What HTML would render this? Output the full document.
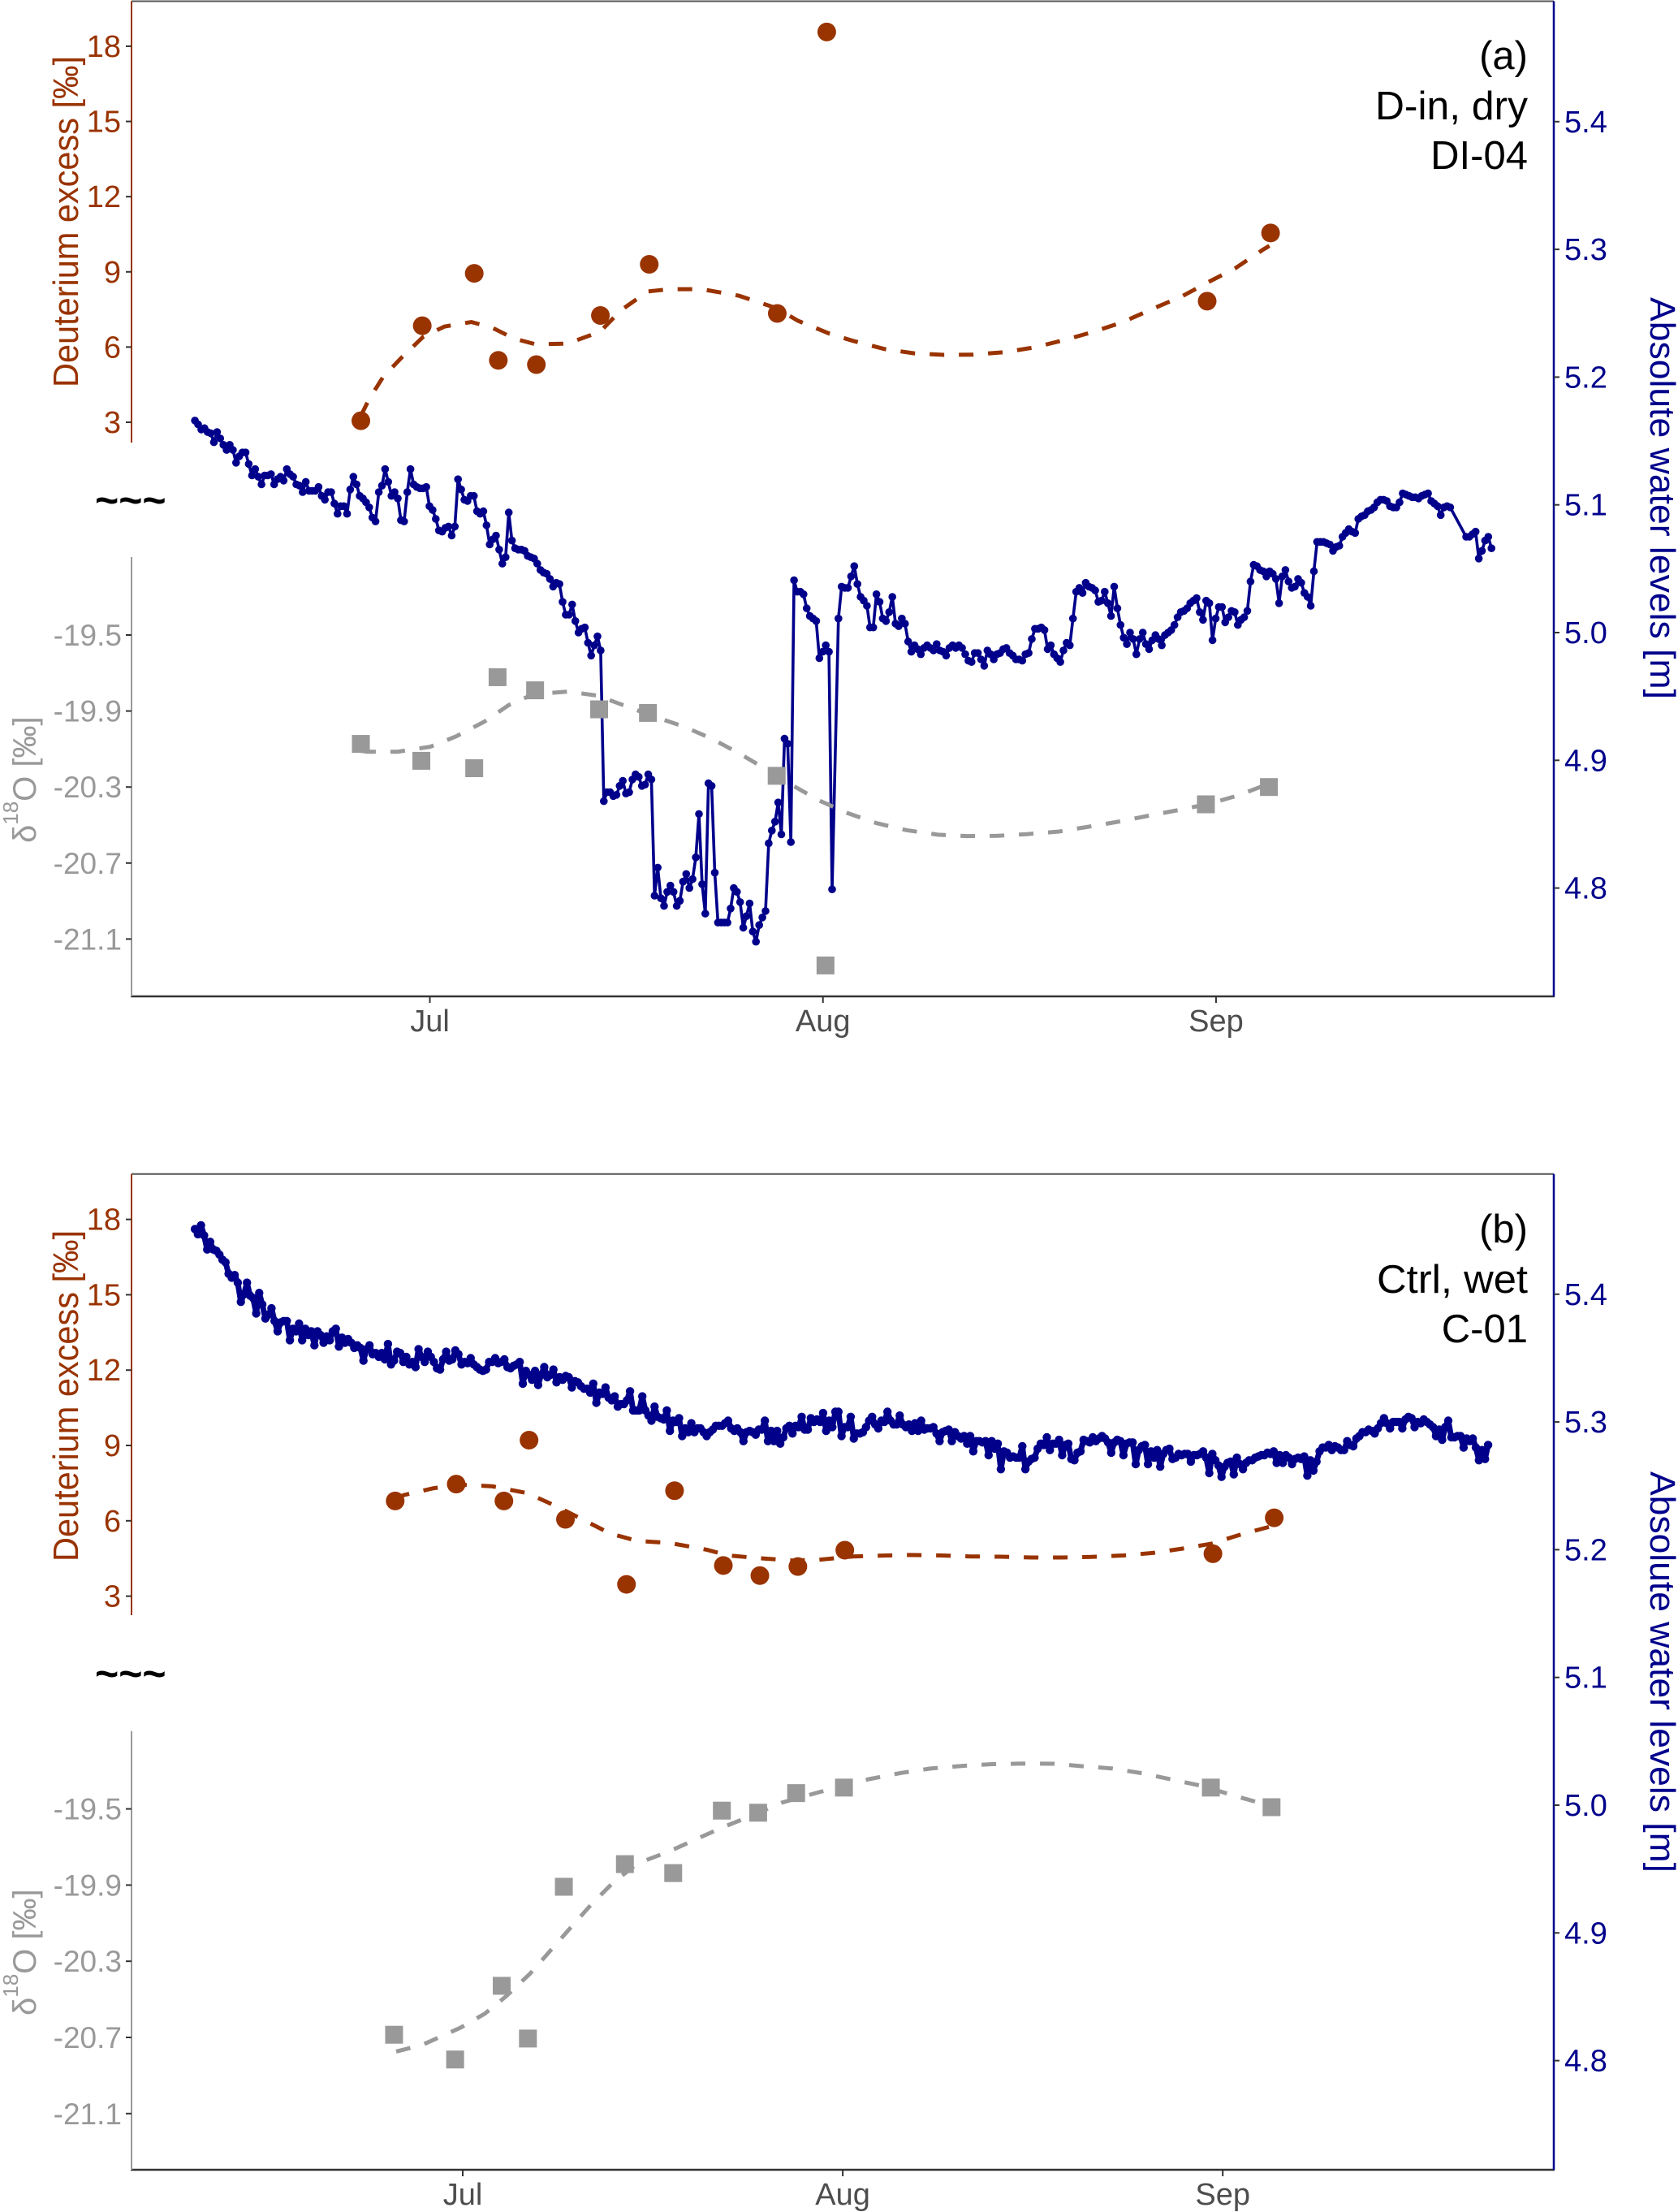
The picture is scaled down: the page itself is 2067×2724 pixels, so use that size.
<!DOCTYPE html>
<html lang="en">
<head>
<meta charset="utf-8">
<title>Deuterium excess, oxygen isotope and water level time series</title>
<style>
html,body{margin:0;padding:0;background:#fff;}
svg{display:block;font-family:"Liberation Sans",sans-serif;}
</style>
</head>
<body>
<svg id="chart" xmlns="http://www.w3.org/2000/svg" width="2067" height="2724" viewBox="0 0 2067 2724">
<rect x="0" y="0" width="2067" height="2724" fill="#ffffff"/>

<text transform="translate(96,477) rotate(-90)" font-size="44" fill="#993300" textLength="408" lengthAdjust="spacingAndGlyphs">Deuterium excess [‰]</text>
<text transform="translate(44,1038) rotate(-90)" font-size="40" fill="#999999">δ<tspan font-size="26" dy="-22">18</tspan><tspan dy="22">O [‰]</tspan></text>
<text transform="translate(2033,366) rotate(90)" font-size="44" fill="#00008b" textLength="495" lengthAdjust="spacingAndGlyphs">Absolute water levels [m]</text>
<text x="117" y="633" font-size="50" font-weight="bold" fill="#000000">~~~</text>
<text x="1882" y="85" font-size="49" text-anchor="end" fill="#000000">(a)</text>
<text x="1882" y="147" font-size="49" text-anchor="end" fill="#000000" textLength="188" lengthAdjust="spacingAndGlyphs">D-in, dry</text>
<text x="1882" y="208" font-size="49" text-anchor="end" fill="#000000">DI-04</text>

<text transform="translate(96,1923) rotate(-90)" font-size="44" fill="#993300" textLength="408" lengthAdjust="spacingAndGlyphs">Deuterium excess [‰]</text>
<text transform="translate(44,2482) rotate(-90)" font-size="40" fill="#999999">δ<tspan font-size="26" dy="-22">18</tspan><tspan dy="22">O [‰]</tspan></text>
<text transform="translate(2033,1812) rotate(90)" font-size="44" fill="#00008b" textLength="494" lengthAdjust="spacingAndGlyphs">Absolute water levels [m]</text>
<text x="117" y="2078" font-size="50" font-weight="bold" fill="#000000">~~~</text>
<text x="1882" y="1530" font-size="49" text-anchor="end" fill="#000000">(b)</text>
<text x="1882" y="1592" font-size="49" text-anchor="end" fill="#000000" textLength="186" lengthAdjust="spacingAndGlyphs">Ctrl, wet</text>
<text x="1882" y="1653" font-size="49" text-anchor="end" fill="#000000">C-01</text>
</svg>

<script>
// ---- shared axis labels ----
const excessTicks = [3, 6, 9, 12, 15, 18];
const oxygenTicks = [-19.5, -19.9, -20.3, -20.7, -21.1];
const waterTicks = [4.8, 4.9, 5.0, 5.1, 5.2, 5.3, 5.4];
const monthNames = ['Jul', 'Aug', 'Sep'];
const monthDays = [0, 31, 62];

// ---- panel a (days since 1 July) ----
const excessDaysA = [-5.44, -0.6, 3.5, 5.4, 8.4, 13.45, 17.3, 27.4, 31.3, 61.3, 66.3];
const excessValuesA = [3.06, 6.85, 8.94, 5.47, 5.3, 7.26, 9.3, 7.34, 18.57, 7.83, 10.55];
const oxygenDaysA = [-5.44, -0.67, 3.5, 5.34, 8.3, 13.35, 17.2, 27.35, 31.2, 61.2, 66.17];
const oxygenValuesA = [-20.073, -20.162, -20.201, -19.722, -19.791, -19.891, -19.91, -20.241, -21.239, -20.391, -20.30];
const excessSmoothDaysA = [-5.44, -4.77, -3.68, -2.21, -0.54, 1.15, 3.27, 4.96, 6.63, 8.35, 10.85, 13.41, 15.08, 17.19, 18.89, 21.41, 24.36, 27.34, 29.03, 31.53, 33.35, 35.88, 38.19, 40.53, 42.86, 45.39, 47.71, 50.03, 52.34, 54.68, 57.01, 59.31, 61.43, 63.54, 65.66, 66.21];
const excessSmoothValuesA = [3.26, 3.94, 4.81, 5.59, 6.40, 6.82, 7.0, 6.76, 6.34, 6.11, 6.14, 6.61, 7.47, 8.22, 8.31, 8.31, 8.05, 7.55, 7.05, 6.53, 6.25, 5.92, 5.75, 5.69, 5.70, 5.80, 5.99, 6.28, 6.61, 7.0, 7.53, 8.02, 8.60, 9.15, 9.87, 10.04];
const oxygenSmoothDaysA = [-5.41, -4.92, -2.53, 0.03, 2.05, 4.32, 6.24, 8.16, 10.88, 13.22, 15.53, 17.87, 20.07, 22.28, 24.36, 26.44, 28.65, 30.73, 32.94, 35.24, 37.59, 40.04, 42.35, 44.76, 47.09, 49.62, 51.93, 54.26, 56.69, 59.12, 61.43, 63.76, 66.17];
const oxygenSmoothValuesA = [-20.11, -20.114, -20.114, -20.088, -20.034, -19.955, -19.868, -19.812, -19.798, -19.819, -19.876, -19.933, -19.983, -20.047, -20.122, -20.203, -20.293, -20.372, -20.437, -20.49, -20.527, -20.551, -20.558, -20.557, -20.548, -20.534, -20.509, -20.483, -20.451, -20.42, -20.389, -20.344, -20.282];
const waterStartDayA = -18.53;
const waterStepDaysA = 0.25;
const waterLevelsA = [
5.166,5.163,5.159,5.160,5.157,5.156,5.149,5.157,5.152,5.147,
5.143,5.147,5.143,5.133,5.138,5.141,5.141,5.132,5.123,5.128,
5.122,5.116,5.123,5.123,5.124,5.116,5.120,5.122,5.119,5.128,
5.124,5.122,5.116,5.115,5.110,5.118,5.111,5.111,5.111,5.114,
5.107,5.104,5.110,5.110,5.101,5.093,5.099,5.099,5.093,5.112,
5.122,5.116,5.107,5.105,5.102,5.098,5.090,5.087,5.110,5.115,
5.128,5.118,5.107,5.110,5.105,5.088,5.087,5.110,5.128,5.116,
5.114,5.113,5.113,5.114,5.099,5.096,5.089,5.080,5.079,5.082,
5.083,5.076,5.083,5.120,5.112,5.104,5.103,5.107,5.107,5.095,
5.093,5.095,5.084,5.069,5.073,5.076,5.065,5.054,5.059,5.094,
5.072,5.066,5.065,5.065,5.064,5.060,5.059,5.058,5.054,5.049,
5.047,5.046,5.042,5.036,5.039,5.038,5.024,5.014,5.014,5.022,
5.009,5.000,5.003,5.004,4.992,4.982,4.990,4.997,4.986,4.868,
4.875,4.875,4.872,4.873,4.880,4.884,4.874,4.875,4.885,4.889,
4.887,4.880,4.881,4.889,4.885,4.794,4.816,4.792,4.786,4.797,
4.802,4.797,4.786,4.790,4.805,4.811,4.800,4.807,4.824,4.858,
4.803,4.780,4.882,4.880,4.812,4.773,4.773,4.773,4.773,4.784,
4.800,4.797,4.789,4.769,4.778,4.788,4.766,4.758,4.771,4.777,
4.782,4.835,4.845,4.852,4.867,4.842,4.917,4.913,4.836,5.041,
5.032,5.032,5.030,5.019,5.013,5.011,5.009,4.980,4.985,4.990,
4.985,4.799,null,5.011,5.036,5.035,5.035,5.044,5.052,5.038,
5.028,5.025,5.021,5.004,5.004,5.030,5.024,5.011,5.009,5.016,
5.028,5.007,5.005,5.011,5.007,4.993,4.985,4.990,4.987,4.983,
4.988,4.990,4.988,4.986,4.991,4.986,4.985,4.982,4.988,4.990,
4.988,4.990,4.988,4.983,4.978,4.977,4.984,4.984,4.979,4.974,
4.986,4.983,4.979,4.983,4.984,4.987,4.988,4.984,4.982,4.979,
4.979,4.978,4.983,4.984,4.995,5.003,5.003,5.004,5.002,4.987,
4.990,4.983,4.980,4.977,4.986,4.992,4.990,5.011,5.032,5.035,
5.031,5.039,5.036,5.035,5.033,5.024,5.025,5.032,5.023,5.013,
5.036,5.019,5.006,4.996,4.991,5.000,4.995,4.983,4.995,5.000,
4.991,4.987,4.994,4.998,4.995,4.990,4.998,5.000,5.002,5.006,
5.012,5.016,5.017,5.019,5.023,5.025,5.027,5.016,5.010,5.025,
5.023,4.994,5.011,5.020,5.020,5.008,5.012,5.017,5.016,5.006,
5.010,5.012,5.017,5.040,5.053,5.052,5.049,5.048,5.044,5.048,
5.046,5.042,5.023,5.044,5.049,5.040,5.035,5.036,5.042,5.039,
5.031,5.028,5.021,5.048,5.071,5.071,5.071,5.070,5.069,5.064,
5.067,5.068,5.075,5.078,5.081,5.079,5.078,5.089,5.091,5.092,
5.095,5.096,5.098,5.102,5.104,5.104,5.103,5.099,5.098,5.098,
5.102,5.109,5.108,5.107,5.106,5.106,5.105,5.107,5.108,5.109,
5.103,5.101,5.099,5.092,5.098,5.099,5.098,null,null,null,
null,5.075,5.075,5.077,5.079,5.058,5.064,5.072,5.075,5.066
];

// ---- panel b (days since 1 July) ----
const excessDaysB = [-5.51, -0.53, 3.36, 5.41, 8.38, 13.36, 17.28, 21.26, 24.24, 27.34, 31.17, 61.2, 66.2];
const excessValuesB = [6.79, 7.46, 6.79, 9.21, 6.06, 3.47, 7.20, 4.22, 3.82, 4.18, 4.83, 4.69, 6.12];
const oxygenDaysB = [-5.6, -0.62, 3.18, 5.32, 8.25, 13.23, 17.17, 21.14, 24.1, 27.2, 31.1, 61.03, 65.98];
const oxygenValuesB = [-20.686, -20.816, -20.429, -20.706, -19.909, -19.79, -19.837, -19.509, -19.52, -19.417, -19.388, -19.388, -19.491];
const excessSmoothDaysB = [-5.5, -4.77, -2.36, -0.18, 2.44, 5.28, 7.68, 9.87, 12.05, 14.24, 16.85, 19.91, 21.66, 24.28, 26.89, 29.07, 31.82, 34.0, 36.42, 39.0, 41.43, 43.84, 46.46, 48.85, 51.26, 53.88, 56.29, 58.68, 61.09, 63.71, 65.89];
const excessSmoothValuesB = [6.90, 7.03, 7.30, 7.44, 7.37, 7.10, 6.57, 6.03, 5.49, 5.20, 5.12, 4.85, 4.62, 4.51, 4.42, 4.45, 4.58, 4.61, 4.64, 4.62, 4.58, 4.57, 4.54, 4.54, 4.56, 4.62, 4.72, 4.89, 5.09, 5.49, 5.77];
const oxygenSmoothDaysB = [-5.43, -3.25, -0.18, 1.79, 3.54, 5.5, 7.25, 9.0, 10.53, 12.25, 14.24, 16.85, 19.04, 21.23, 23.41, 26.03, 29.07, 33.13, 35.76, 38.15, 40.78, 43.18, 45.7, 48.21, 50.6, 53.0, 55.54, 58.01, 60.43, 62.85, 65.67];
const oxygenSmoothValuesB = [-20.774, -20.738, -20.649, -20.576, -20.484, -20.365, -20.237, -20.109, -19.999, -19.888, -19.787, -19.723, -19.659, -19.596, -19.54, -19.467, -19.412, -19.344, -19.311, -19.288, -19.274, -19.265, -19.262, -19.263, -19.276, -19.288, -19.314, -19.348, -19.381, -19.429, -19.48];
const waterStartDayB = -21.85;
const waterStepDaysB = 0.25;
const waterLevelsB = [
5.451,5.447,5.454,5.446,5.435,5.441,5.435,5.434,5.431,5.427,
5.425,5.416,5.413,5.415,5.409,5.394,5.400,5.409,5.399,5.397,
5.385,5.401,5.392,5.381,5.384,5.389,5.379,5.371,5.378,5.379,
5.379,5.364,5.373,5.371,5.377,5.364,5.373,5.368,5.371,5.360,
5.371,5.368,5.362,5.367,5.364,5.371,5.373,5.359,5.366,5.362,
5.365,5.362,5.358,5.360,5.358,5.348,5.357,5.360,5.353,5.354,
5.351,5.354,5.349,5.361,5.345,5.348,5.355,5.354,5.347,5.351,
5.345,5.347,5.343,5.357,5.351,5.347,5.355,5.351,5.347,5.342,
5.341,5.349,5.355,5.348,5.349,5.356,5.353,5.345,5.347,5.346,
5.350,5.345,5.343,5.341,5.340,5.341,5.347,5.347,5.350,5.346,
5.347,5.349,5.343,5.342,5.344,5.345,5.347,5.330,5.340,5.337,
5.333,5.340,5.329,5.337,5.343,5.335,5.337,5.341,5.331,5.335,
5.333,5.336,5.335,5.327,5.332,5.331,5.328,5.326,5.326,5.323,
5.330,5.315,5.323,5.322,5.327,5.319,5.317,5.320,5.312,5.314,
5.314,5.317,5.324,5.309,5.309,5.309,5.320,5.309,5.305,5.301,
5.312,5.304,5.303,5.302,5.309,5.293,5.301,5.300,5.303,5.289,
5.295,5.292,5.299,5.292,5.295,5.295,5.292,5.289,5.292,5.294,
5.297,5.297,5.297,5.299,5.301,5.295,5.293,5.295,5.292,5.285,
5.292,5.293,5.292,5.290,5.294,5.294,5.301,5.285,5.293,5.285,
5.293,5.283,5.288,5.295,5.297,5.291,5.297,5.296,5.304,5.294,
5.294,5.303,5.300,5.302,5.300,5.307,5.293,5.301,5.296,5.308,
5.308,5.289,5.296,5.296,5.304,5.287,5.291,5.291,5.292,5.296,
5.301,5.304,5.298,5.295,5.301,5.300,5.308,5.301,5.298,5.298,
5.305,5.298,5.296,5.298,5.293,5.299,5.293,5.301,5.294,5.295,
5.295,5.296,5.291,5.285,5.292,5.293,5.294,5.285,5.292,5.289,
5.287,5.289,5.283,5.289,5.277,5.285,5.285,5.284,5.285,5.274,
5.285,5.279,5.283,5.263,5.277,5.276,5.272,5.273,5.272,5.272,
5.281,5.263,5.269,5.271,5.272,5.279,5.283,5.282,5.288,5.278,
5.283,5.283,5.286,5.274,5.282,5.283,5.271,5.270,5.276,5.277,
5.286,5.285,5.284,5.288,5.285,5.287,5.289,5.287,5.284,5.276,
5.284,5.286,5.285,5.274,5.283,5.284,5.284,5.267,5.278,5.281,
5.282,5.267,5.277,5.272,5.278,5.265,5.275,5.278,5.279,5.271,
5.272,5.275,5.274,5.275,5.275,5.269,5.274,5.274,5.275,5.277,
5.272,5.260,5.275,5.270,5.266,5.257,5.265,5.268,5.269,5.259,
5.272,5.267,5.263,5.268,5.270,5.270,5.272,5.273,5.274,5.274,
5.276,5.275,5.277,5.268,5.274,5.268,5.274,5.272,5.267,5.271,
5.272,5.271,5.273,5.258,5.270,5.262,5.269,5.277,5.280,5.280,
5.282,5.278,5.281,5.280,5.278,5.278,5.285,5.282,5.281,5.287,
5.289,5.292,5.292,5.294,5.293,5.291,5.295,5.299,5.303,5.299,
5.295,5.300,5.300,5.300,5.295,5.302,5.304,5.303,5.296,5.300,
5.299,5.302,5.300,5.298,5.296,5.289,5.294,5.286,5.296,5.301,
5.288,5.288,5.289,5.289,5.280,5.287,5.285,5.287,5.280,5.270,
5.278,5.271,5.282
];

const svgNS = 'http://www.w3.org/2000/svg';
const root = document.getElementById('chart');

function make(parent, tag, attrs) {
  const el = document.createElementNS(svgNS, tag);
  for (const k in attrs) el.setAttribute(k, attrs[k]);
  parent.appendChild(el);
  return el;
}

function drawPanel(p) {
  const xScale = d => p.xJul + p.xPerDay * d;
  const yExcess = v => p.y3 - (v - 3) * p.excessPerUnit;
  const yOxygen = v => p.yO + (-19.5 - v) * p.oxygenPerUnit;
  const yWater = v => p.y5 - (v - 5) * 1573;

  const g = make(root, 'g', {});
  
  

  // frame and axes
  const topLine = make(g, 'line', {x1: 162, x2: 1914, y1: p.top, y2: p.top, stroke: '#555555', 'stroke-width': 2});
  
  
  const bottomLine = make(g, 'line', {x1: 161, x2: 1915, y1: p.bottom, y2: p.bottom, stroke: '#333333', 'stroke-width': 2.5});
  
  
  const redAxis = make(g, 'line', {x1: 162, x2: 162, y1: p.top, y2: p.redEnd, stroke: '#993300', 'stroke-width': 2});
  
  
  const greyAxis = make(g, 'line', {x1: 162, x2: 162, y1: p.greyStart, y2: p.bottom, stroke: '#999999', 'stroke-width': 2});
  
  
  const blueAxis = make(g, 'line', {x1: 1914, x2: 1914, y1: p.top, y2: p.bottom, stroke: '#00008b', 'stroke-width': 2.5});
  
  

  // ticks
  excessTicks.forEach(v => {
    const t = make(g, 'line', {x1: 155, x2: 162, y1: yExcess(v), y2: yExcess(v), stroke: '#333333', 'stroke-width': 2});
    
    
    const l = make(g, 'text', {x: 149, y: yExcess(v) + 13, 'font-size': 38, 'text-anchor': 'end', fill: '#993300'});
    
    
    l.textContent = String(v);
  });
  oxygenTicks.forEach(v => {
    const t = make(g, 'line', {x1: 155, x2: 162, y1: yOxygen(v), y2: yOxygen(v), stroke: '#333333', 'stroke-width': 2});
    
    
    const l = make(g, 'text', {x: 150, y: yOxygen(v) + 13, 'font-size': 37, 'text-anchor': 'end', fill: '#999999'});
    
    
    l.textContent = v.toFixed(1);
  });
  waterTicks.forEach(v => {
    const t = make(g, 'line', {x1: 1914, x2: 1921, y1: yWater(v), y2: yWater(v), stroke: '#333333', 'stroke-width': 2});
    
    
    const l = make(g, 'text', {x: 1927, y: yWater(v) + 13, 'font-size': 38, fill: '#00008b'});
    
    
    l.textContent = v.toFixed(1);
  });
  monthDays.forEach((d, i) => {
    const t = make(g, 'line', {x1: xScale(d), x2: xScale(d), y1: p.bottom, y2: p.bottom + 8, stroke: '#333333', 'stroke-width': 2});
    
    
    const l = make(g, 'text', {x: xScale(d), y: p.bottom + 43, 'font-size': 38, 'text-anchor': 'middle', fill: '#4d4d4d'});
    
    
    l.textContent = monthNames[i];
  });

  // water level series
  const pts = [];
  const waterGroup = make(g, 'g', {});
  
  
  p.water.forEach((v, i) => {
    if (v !== null) pts.push(xScale(p.waterStart + i * p.waterStep).toFixed(1) + ',' + yWater(v).toFixed(1));
  });
  const waterLine = make(waterGroup, 'polyline', {points: pts.join(' '), fill: 'none', stroke: '#00008b', 'stroke-width': p.waterLineWidth, 'stroke-linejoin': 'round'});
  
  
  p.water.forEach((v, i) => {
    if (v === null) return;
    const c = make(waterGroup, 'circle', {cx: xScale(p.waterStart + i * p.waterStep).toFixed(1), cy: yWater(v).toFixed(1), r: p.waterRadius, fill: '#00008b'});
    
    
  });

  // smoothed dashed curves
  const excessCurvePts = p.excessSmoothDays.map((d, i) => xScale(d).toFixed(1) + ',' + yExcess(p.excessSmoothValues[i]).toFixed(1)).join(' ');
  const excessCurve = make(g, 'polyline', {points: excessCurvePts, fill: 'none', stroke: '#993300', 'stroke-width': 5, 'stroke-dasharray': '18 18'});
  
  
  const oxygenCurvePts = p.oxygenSmoothDays.map((d, i) => xScale(d).toFixed(1) + ',' + yOxygen(p.oxygenSmoothValues[i]).toFixed(1)).join(' ');
  const oxygenCurve = make(g, 'polyline', {points: oxygenCurvePts, fill: 'none', stroke: '#999999', 'stroke-width': 5, 'stroke-dasharray': '18 18'});
  
  

  // sample markers
  p.excessDays.forEach((d, i) => {
    const c = make(g, 'circle', {cx: xScale(d), cy: yExcess(p.excessValues[i]), r: 11.5, fill: '#993300'});
    
    
  });
  p.oxygenDays.forEach((d, i) => {
    const s = make(g, 'rect', {x: xScale(d) - 11, y: yOxygen(p.oxygenValues[i]) - 11, width: 22, height: 22, fill: '#999999'});
    
    
  });
}

drawPanel({
  id: 'panel-a', xJul: 529.5, xPerDay: 15.62,
  top: 1.5, bottom: 1227, redEnd: 545, greyStart: 686,
  y3: 520, excessPerUnit: 30.87, yO: 782, oxygenPerUnit: 234, y5: 779,
  waterLineWidth: 3.6, waterRadius: 4.8,
  water: waterLevelsA, waterStart: waterStartDayA, waterStep: waterStepDaysA,
  excessDays: excessDaysA, excessValues: excessValuesA,
  oxygenDays: oxygenDaysA, oxygenValues: oxygenValuesA,
  excessSmoothDays: excessSmoothDaysA, excessSmoothValues: excessSmoothValuesA,
  oxygenSmoothDays: oxygenSmoothDaysA, oxygenSmoothValues: oxygenSmoothValuesA
});
drawPanel({
  id: 'panel-b', xJul: 570, xPerDay: 15.1,
  top: 1445.7, bottom: 2672, redEnd: 1989, greyStart: 2131.7,
  y3: 1965.6, excessPerUnit: 30.93, yO: 2227.6, oxygenPerUnit: 234.5, y5: 2223,
  waterLineWidth: 7, waterRadius: 5.2,
  water: waterLevelsB, waterStart: waterStartDayB, waterStep: waterStepDaysB,
  excessDays: excessDaysB, excessValues: excessValuesB,
  oxygenDays: oxygenDaysB, oxygenValues: oxygenValuesB,
  excessSmoothDays: excessSmoothDaysB, excessSmoothValues: excessSmoothValuesB,
  oxygenSmoothDays: oxygenSmoothDaysB, oxygenSmoothValues: oxygenSmoothValuesB
});
</script>
</body>
</html>
